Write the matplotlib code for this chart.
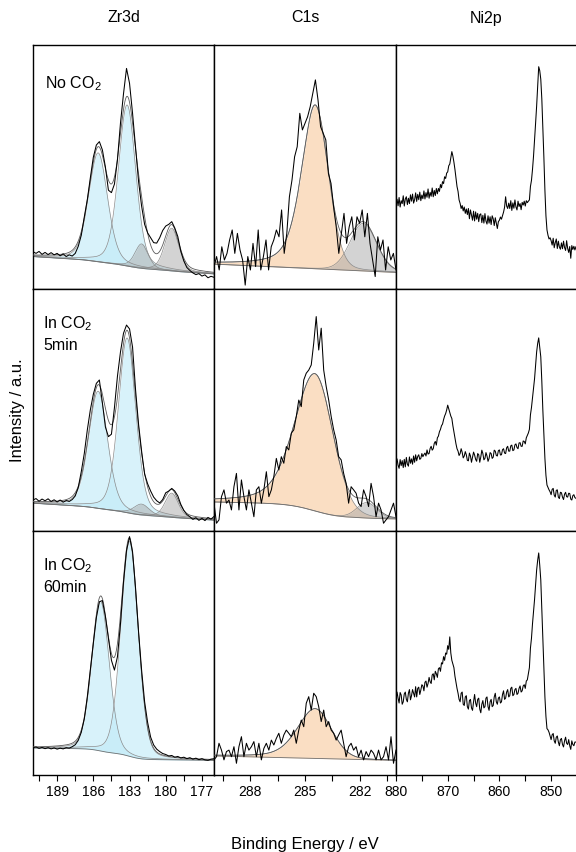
import numpy as np
import matplotlib.pyplot as plt
from matplotlib.ticker import MultipleLocator

plt.rcParams['font.family'] = ['Liberation Sans', 'DejaVu Sans']
plt.rcParams['mathtext.fontset'] = 'custom'
plt.rcParams['mathtext.rm'] = 'Liberation Sans'
plt.rcParams['mathtext.it'] = 'Liberation Sans:italic'

# ---------------------------------------------------------------------------
# data (intensity in panel units: 0 = bottom of a panel, 100 = top)
# ---------------------------------------------------------------------------
columns = ["Zr3d", "C1s", "Ni2p"]
conditions = ["No CO$_2$", "In CO$_2$\n5min", "In CO$_2$\n60min"]
x_limits = [(191.0, 176.0), (290.0, 280.0), (880.0, 844.8)]
raw_ranges = [(191.0, 176.0), (290.0, 280.0), (880.0, 845.2)]
major_steps = [3, 3, 10]
minor_steps = [1.5, 1.5, 5]

# raw spectra, evenly spaced over raw_ranges
zr_none_raw = [15.3, 14.6, 15.4, 14.2, 15.0, 14.1, 14.9, 14.0, 14.6, 13.6,
               14.4, 13.3, 14.0, 13.5, 14.6, 17.5, 22.0, 29.5, 36.5, 45.5,
               54.0, 59.0, 60.4, 57.0, 50.0, 40.5, 39.5, 43.0, 53.0, 68.0,
               80.0, 90.4, 84.3, 72.0, 58.0, 44.0, 34.0, 26.5, 23.0, 21.0,
               19.0, 18.8, 21.0, 24.0, 25.8, 26.5, 27.6, 25.0, 21.5, 15.5,
               11.5, 8.8, 7.6, 6.6, 5.9, 6.3, 5.3, 5.8, 4.6, 5.2,
               4.8]
zr_5min_raw = [12.8, 13.4, 12.3, 13.2, 12.5, 13.3, 12.2, 12.9, 12.0, 12.8,
               11.9, 12.6, 12.2, 13.0, 14.5, 18.0, 24.5, 32.0, 41.7, 50.0,
               56.5, 61.0, 62.4, 53.0, 43.0, 39.0, 40.0, 51.0, 64.0, 74.0,
               81.7, 85.1, 83.5, 76.0, 58.3, 44.0, 33.0, 23.5, 19.5, 16.5,
               14.0, 12.5, 11.6, 13.0, 15.8, 16.5, 17.6, 16.5, 14.5, 11.0,
               8.5, 6.8, 5.9, 4.8, 5.5, 4.4, 5.2, 4.3, 5.6, 4.9,
               6.0]
zr_60min_raw = [11.2, 11.5, 10.9, 11.3, 10.8, 11.2, 10.7, 11.1, 10.6, 11.0,
                10.7, 11.2, 11.0, 11.6, 12.4, 14.2, 17.5, 23.0, 32.0, 43.0,
                54.0, 64.5, 71.0, 71.5, 65.0, 56.0, 47.0, 43.0, 48.5, 62.0,
                79.0, 92.0, 97.7, 91.5, 76.5, 58.5, 43.0, 30.0, 21.5, 15.5,
                12.3, 10.6, 9.6, 8.8, 8.4, 7.8, 8.0, 7.3, 7.6, 7.0,
                7.3, 6.7, 7.1, 6.5, 6.9, 6.3, 6.7, 6.2, 6.0, 6.5,
                6.7]
c1s_none_raw = [9.2, 13.3, 7.8, 17.3, 11.9, 14.6, 20.1, 24.2, 14.6, 22.8,
                16.0, 11.9, 1.6, 13.3, 7.8, 18.7, 9.2, 24.2, 7.8, 13.3,
                20.1, 7.8, 17.3, 20.1, 24.2, 21.4, 32.4, 14.6, 22.8, 37.8,
                44.7, 54.2, 58.3, 72.0, 65.2, 67.9, 70.6, 74.7, 80.2, 85.7,
                77.5, 66.5, 63.8, 61.1, 47.4, 43.3, 33.7, 25.5, 14.6, 22.8,
                31.0, 18.7, 25.5, 29.6, 20.1, 29.6, 26.9, 32.4, 21.4, 31.0,
                18.7, 11.9, 5.1, 21.4, 16.0, 20.1, 7.8, 17.3, 11.9, 14.6,
                7.8]
c1s_5min_raw = [11.5, 3.2, 4.6, 14.2, 17.0, 11.5, 12.8, 8.7, 18.3, 23.8,
                8.7, 21.1, 14.2, 8.7, 17.0, 11.5, 5.9, 17.0, 18.3, 11.5,
                17.0, 24.5, 14.2, 17.0, 22.5, 30.0, 25.2, 30.7, 28.0, 34.9,
                33.5, 40.4, 41.8, 47.3, 54.1, 51.4, 62.4, 65.2, 66.5, 68.6,
                77.6, 88.6, 74.8, 83.8, 66.5, 59.7, 54.1, 47.3, 41.8, 37.6,
                30.7, 29.4, 23.8, 19.7, 11.5, 18.3, 17.0, 15.6, 11.5, 10.1,
                17.0, 14.2, 10.1, 19.7, 14.2, 5.9, 11.5, 8.7, 3.2, 4.6,
                5.9, 8.7, 11.5, 5.9]
c1s_60min_raw = [6.2, 7.5, 13.0, 10.2, 6.2, 9.6, 10.2, 7.5, 11.6, 4.8,
                 11.6, 15.7, 7.5, 13.0, 10.2, 11.6, 13.7, 7.5, 13.0, 6.2,
                 10.9, 13.0, 10.2, 14.3, 12.3, 15.0, 17.1, 13.0, 16.4, 18.4,
                 17.1, 15.7, 18.4, 13.0, 18.4, 22.5, 19.8, 29.4, 32.1, 26.6,
                 33.5, 32.1, 28.0, 21.9, 26.6, 19.8, 21.9, 18.4, 17.1, 14.3,
                 16.4, 18.4, 13.0, 7.5, 11.6, 13.0, 10.2, 11.6, 7.5, 10.2,
                 6.2, 9.6, 7.5, 10.2, 8.9, 6.2, 10.2, 6.2, 7.5, 11.6,
                 6.2, 15.7, 4.8, 10.2]
ni_none_raw = [33.7, 36.8, 34.1, 37.5, 33.6, 36.2, 35.0, 38.2, 34.0, 36.9,
               37.8, 34.6, 37.2, 35.0, 38.6, 36.0, 38.9, 35.2, 36.6, 39.4,
               35.9, 38.8, 36.6, 39.7, 36.2, 38.5, 37.0, 40.2, 36.9, 39.5,
               37.6, 41.0, 37.2, 39.6, 38.0, 41.4, 37.8, 40.4, 38.3, 41.2,
               39.0, 41.2, 40.0, 42.8, 41.5, 44.0, 43.2, 46.0, 45.3, 47.5,
               48.0, 50.5, 51.2, 53.8, 56.3, 54.5, 52.0, 49.0, 45.5, 42.0,
               40.0, 36.5, 35.1, 33.0, 34.2, 32.0, 33.6, 31.0, 32.8, 30.5,
               33.0, 28.8, 32.4, 30.2, 28.2, 31.9, 27.9, 31.6, 28.6, 31.0,
               27.6, 30.5, 30.8, 27.2, 30.2, 27.0, 30.9, 27.8, 26.6, 30.0,
               27.0, 29.6, 26.4, 30.0, 28.8, 26.0, 29.2, 27.0, 24.8, 27.6,
               28.2, 29.5, 28.6, 30.0, 31.5, 33.5, 37.8, 34.0, 33.0, 35.2,
               33.0, 36.2, 32.2, 35.3, 33.1, 36.5, 33.6, 32.4, 36.0, 33.8,
               35.0, 32.5, 35.5, 34.4, 36.0, 34.0, 36.2, 35.4, 36.0, 36.5,
               42.0, 44.5, 49.0, 54.5, 61.0, 68.0, 75.0, 83.0, 91.1, 89.5,
               86.0, 78.0, 66.0, 54.0, 40.5, 30.0, 24.2, 22.0, 20.5, 21.0,
               19.8, 18.0, 20.8, 16.9, 19.0, 20.5, 16.6, 19.6, 17.2, 16.3,
               18.9, 16.5, 19.6, 17.0, 15.8, 19.8, 16.6, 15.0, 17.4, 12.6,
               17.8, 16.2, 17.5, 16.0, 17.3]
ni_5min_raw = [27.3, 29.8, 27.2, 25.9, 29.5, 27.0, 29.1, 26.2, 29.6, 26.5,
               30.4, 27.6, 26.8, 30.6, 28.0, 29.8, 27.6, 31.0, 28.4, 31.5,
               29.0, 30.8, 31.5, 29.6, 30.0, 32.0, 30.7, 31.6, 32.2, 31.0,
               33.5, 31.8, 32.0, 34.1, 35.0, 33.4, 34.0, 36.2, 37.0, 35.5,
               38.5, 39.2, 41.0, 42.0, 43.5, 44.2, 46.0, 47.5, 48.5, 50.0,
               52.0, 50.5, 49.0, 47.5, 46.5, 43.5, 41.0, 38.5, 36.0, 34.0,
               33.0, 31.2, 32.0, 34.0, 32.5, 30.2, 31.0, 32.8, 31.5, 29.2,
               29.0, 32.2, 31.0, 28.4, 30.6, 32.6, 31.4, 29.6, 28.8, 32.0,
               31.5, 28.4, 30.6, 33.4, 32.0, 29.4, 30.0, 32.4, 31.0, 28.8,
               30.0, 32.4, 32.0, 30.0, 30.5, 33.4, 33.0, 31.2, 31.0, 33.2,
               33.5, 31.4, 31.5, 33.6, 34.0, 32.2, 32.0, 34.4, 35.0, 33.0,
               33.0, 35.2, 35.5, 33.2, 33.5, 35.6, 36.0, 34.5, 34.0, 36.4,
               36.5, 35.0, 35.0, 37.2, 37.0, 36.0, 38.5, 39.5, 40.5, 42.0,
               48.0, 51.0, 55.0, 59.0, 63.0, 68.5, 74.0, 77.5, 79.8, 76.0,
               72.0, 62.0, 50.0, 40.0, 30.0, 23.0, 19.0, 18.0, 17.0, 16.2,
               15.0, 17.2, 17.6, 14.8, 14.0, 16.8, 17.0, 14.0, 13.4, 16.0,
               15.8, 14.0, 13.0, 15.2, 16.0, 14.2, 14.0, 15.6, 15.5, 13.2,
               12.8, 14.6, 15.0, 13.8, 13.5]
ni_60min_raw = [30.7, 34.0, 31.5, 29.5, 33.8, 32.8, 29.0, 30.0, 33.2, 34.0,
                31.0, 30.0, 33.5, 35.0, 30.8, 32.5, 35.0, 33.5, 32.0, 36.2,
                32.0, 35.5, 36.0, 33.0, 34.8, 37.0, 36.5, 34.5, 38.0, 38.5,
                36.0, 37.5, 40.0, 38.2, 37.5, 41.0, 41.5, 39.0, 42.5, 41.5,
                40.0, 43.5, 44.0, 42.5, 46.0, 45.5, 48.5, 47.0, 50.0, 49.5,
                53.0, 51.5, 56.6, 50.0, 47.0, 45.5, 44.0, 40.5, 38.0, 35.5,
                33.5, 31.0, 30.0, 33.5, 34.0, 29.0, 28.5, 32.0, 32.5, 28.0,
                27.0, 30.5, 31.0, 27.5, 26.5, 30.0, 33.0, 29.5, 28.0, 31.0,
                31.5, 27.0, 25.5, 29.0, 30.5, 27.5, 28.0, 31.5, 32.0, 28.0,
                26.5, 30.0, 31.0, 28.0, 28.5, 32.0, 33.5, 30.0, 29.0, 31.5,
                32.0, 29.5, 30.0, 33.0, 34.5, 31.0, 31.5, 34.0, 35.0, 32.0,
                32.5, 35.5, 36.0, 32.5, 33.0, 35.0, 35.5, 33.0, 33.5, 35.5,
                36.5, 34.0, 34.5, 36.5, 37.0, 35.5, 38.5, 39.0, 41.5, 44.0,
                52.0, 56.0, 62.0, 67.0, 72.0, 78.0, 84.0, 88.0, 91.0, 86.0,
                80.0, 68.0, 55.0, 43.0, 32.0, 24.0, 19.0, 18.5, 17.5, 16.0,
                14.5, 16.5, 17.0, 14.0, 13.0, 15.5, 16.0, 13.5, 12.0, 14.5,
                15.0, 12.5, 11.5, 14.0, 15.5, 13.0, 12.5, 14.5, 12.0, 10.5,
                14.0, 12.5, 12.0, 13.5, 13.5]

# fitted components: centre (eV), height, FWHM on the high-BE / low-BE side,
# Lorentzian share on each side, fill kind
zr_none_centers = [185.6, 183.2, 182.0, 179.5]
zr_none_heights = [44.6, 66.0, 10.0, 17.5]
zr_none_fwhm = [1.85, 1.7, 1.3, 1.4]
zr_none_eta = 0.3
zr_none_kinds = ["zr", "zr", "other", "other"]
zr_5min_centers = [185.6, 183.2, 182.0, 179.5]
zr_5min_heights = [48.4, 72.2, 4.5, 10.0]
zr_5min_fwhm = [1.85, 1.7, 1.5, 1.3]
zr_5min_eta = 0.3
zr_5min_kinds = ["zr", "zr", "other", "other"]
zr_60min_centers = [185.4, 183.0]
zr_60min_heights = [61.3, 88.0]
zr_60min_fwhm = [1.7, 1.7]
zr_60min_eta = 0.2
zr_60min_kinds = ["zr", "zr"]

c1s_none_centers = [284.45, 281.8]
c1s_none_heights = [67.0, 19.5]
c1s_none_fwhm_hi = [1.76, 1.7]
c1s_none_fwhm_lo = [1.70, 1.7]
c1s_none_eta_hi = [0.5, 0.1]
c1s_none_eta_lo = [0.1, 0.1]
c1s_none_kinds = ["c", "other"]
c1s_5min_centers = [284.45, 281.6]
c1s_5min_heights = [56.7, 6.4]
c1s_5min_fwhm_hi = [2.7, 1.3]
c1s_5min_fwhm_lo = [2.3, 1.3]
c1s_5min_eta_hi = [0.4, 0.1]
c1s_5min_eta_lo = [0.1, 0.1]
c1s_5min_kinds = ["c", "other"]
c1s_60min_centers = [284.45]
c1s_60min_heights = [20.4]
c1s_60min_fwhm_hi = [2.3]
c1s_60min_fwhm_lo = [2.1]
c1s_60min_eta_hi = [0.4]
c1s_60min_eta_lo = [0.1]
c1s_60min_kinds = ["c"]

# background: value at low-BE edge, slope per eV, Shirley step
zr_none_base = [6.2, 0.3, 2.6]
zr_5min_base = [4.5, 0.3, 2.5]
zr_60min_base = [6.0, 0.05, 4.3]
c1s_none_base = [6.8, 0.34, 0.0]
c1s_5min_base = [5.0, 0.1, 6.0]
c1s_60min_base = [6.0, 0.18, 0.0]

raws = [[zr_none_raw, c1s_none_raw, ni_none_raw],
        [zr_5min_raw, c1s_5min_raw, ni_5min_raw],
        [zr_60min_raw, c1s_60min_raw, ni_60min_raw]]


def zr_fit(centers, heights, fwhm, eta, kinds, base):
    n = len(centers)
    return dict(centers=centers, heights=heights, fwhm_hi=fwhm, fwhm_lo=fwhm,
                eta_hi=[eta] * n, eta_lo=[eta] * n, kinds=kinds, base=base)


def c_fit(centers, heights, fhi, flo, ehi, elo, kinds, base):
    return dict(centers=centers, heights=heights, fwhm_hi=fhi, fwhm_lo=flo,
                eta_hi=ehi, eta_lo=elo, kinds=kinds, base=base)


fits = {
    (0, 0): zr_fit(zr_none_centers, zr_none_heights, zr_none_fwhm, zr_none_eta,
                   zr_none_kinds, zr_none_base),
    (1, 0): zr_fit(zr_5min_centers, zr_5min_heights, zr_5min_fwhm, zr_5min_eta,
                   zr_5min_kinds, zr_5min_base),
    (2, 0): zr_fit(zr_60min_centers, zr_60min_heights, zr_60min_fwhm, zr_60min_eta,
                   zr_60min_kinds, zr_60min_base),
    (0, 1): c_fit(c1s_none_centers, c1s_none_heights, c1s_none_fwhm_hi, c1s_none_fwhm_lo,
                  c1s_none_eta_hi, c1s_none_eta_lo, c1s_none_kinds, c1s_none_base),
    (1, 1): c_fit(c1s_5min_centers, c1s_5min_heights, c1s_5min_fwhm_hi, c1s_5min_fwhm_lo,
                  c1s_5min_eta_hi, c1s_5min_eta_lo, c1s_5min_kinds, c1s_5min_base),
    (2, 1): c_fit(c1s_60min_centers, c1s_60min_heights, c1s_60min_fwhm_hi, c1s_60min_fwhm_lo,
                  c1s_60min_eta_hi, c1s_60min_eta_lo, c1s_60min_kinds, c1s_60min_base),
}

fill_colors = {"zr": ("#bfeaf8", 0.6), "c": ("#f8c89b", 0.6), "other": ("#a8a8a8", 0.5)}


def pseudo_voigt(e, center, height, fwhm_hi, fwhm_lo, eta_hi, eta_lo):
    hi = e >= center
    hw = np.where(hi, fwhm_hi, fwhm_lo) / 2.0
    eta = np.where(hi, eta_hi, eta_lo)
    r2 = ((e - center) / hw) ** 2
    return height * (eta / (1.0 + r2) + (1.0 - eta) * np.exp(-np.log(2.0) * r2))


# layout in pixels of the 576x852 canvas
W, H = 576.0, 852.0
col_px = [(33, 181), (214, 182), (396, 182)]
row_px = [(45, 244), (289, 242), (531, 244)]

fig = plt.figure(figsize=(W / 100, H / 100), dpi=100)

for r in range(3):
    for c in range(3):
        x0, w = col_px[c]
        y0, h = row_px[r]
        ax = fig.add_axes([x0 / W, 1 - (y0 + h) / H, w / W, h / H])

        fit = fits.get((r, c))
        if fit is not None:
            lo, hi = sorted(x_limits[c])
            e = np.linspace(lo, hi, 900)
            comps = [pseudo_voigt(e, *p) for p in zip(fit["centers"], fit["heights"],
                                                      fit["fwhm_hi"], fit["fwhm_lo"],
                                                      fit["eta_hi"], fit["eta_lo"])]
            total = np.sum(comps, axis=0)
            frac = np.cumsum(total) / np.sum(total)
            b0, slope, step = fit["base"]
            base = b0 + slope * (e - lo) + step * frac
            for comp, kind in zip(comps, fit["kinds"]):
                col, a = fill_colors[kind]
                ax.fill_between(e, base, base + comp, color=col, alpha=a, lw=0, zorder=1)
                ax.plot(e, base + comp, color="#8c8c8c", lw=0.5, zorder=2)
            ax.plot(e, base, color="#707070", lw=0.6, zorder=2)
            ax.plot(e, base + total, color="#5a5a5a", lw=0.6, zorder=3)

        raw = raws[r][c]
        e_raw = np.linspace(raw_ranges[c][0], raw_ranges[c][1], len(raw))
        ax.plot(e_raw, raw, color="black", lw=0.75, zorder=4)

        ax.set_xlim(*x_limits[c])
        ax.set_ylim(0, 100)
        ax.set_yticks([])
        for sp in ax.spines.values():
            sp.set_linewidth(1.0)
            sp.set_color("black")

        if r == 2:
            ax.xaxis.set_major_locator(MultipleLocator(major_steps[c]))
            ax.xaxis.set_minor_locator(MultipleLocator(minor_steps[c]))
            ax.tick_params(axis="x", which="both", direction="out", length=4.5,
                           width=0.8, labelsize=10, pad=2.5)
        else:
            ax.tick_params(axis="x", which="both", bottom=False, labelbottom=False)

        if c == 0:
            if r == 0:
                ax.text(0.066, 0.84, conditions[r], transform=ax.transAxes,
                        fontsize=11.5, va="center", ha="left")
            else:
                ax.text(0.055, 0.895, conditions[r], transform=ax.transAxes,
                        fontsize=11.5, va="top", ha="left", linespacing=1.4)

for c, name in enumerate(columns):
    x0, w = col_px[c]
    cx = (x0 + min(x0 + w, W)) / 2
    fig.text(cx / W, 1 - 18 / H, name, ha="center", va="center", fontsize=11.5)

fig.text(305 / W, 1 - 845 / H, "Binding Energy / eV", ha="center", va="center", fontsize=12)
fig.text(18 / W, 1 - 410 / H, "Intensity / a.u.", ha="center", va="center",
         rotation=90, fontsize=12)

fig.savefig("out.png", dpi=100)
